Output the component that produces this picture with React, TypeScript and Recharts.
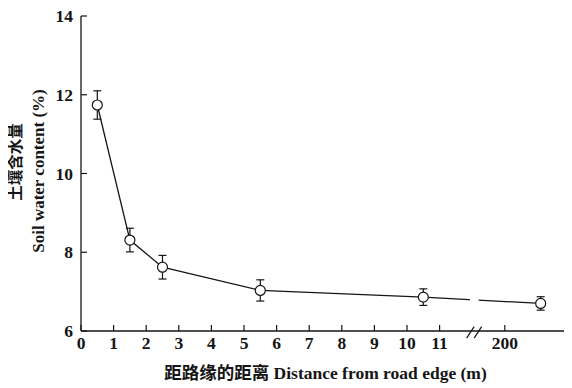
import React from 'react';
import { LineChart, Line, XAxis, YAxis, ErrorBar, ReferenceLine, ReferenceArea, Label } from 'recharts';

// distances from the road edge (m) and their positions on the broken axis
const distanceLabels = ['0.5', '1.5', '2.5', '5.5', '10.5', '200+'];
const plotPositions = [0.5, 1.5, 2.5, 5.5, 10.5, 14.1];
// soil water content (%) and its error
const waterContent = [11.74, 8.31, 7.62, 7.03, 6.86, 6.7];
const waterError = [0.36, 0.3, 0.3, 0.27, 0.21, 0.17];

const xTicks = [0, 1, 2, 3, 4, 5, 6, 7, 8, 9, 10, 11, 13];
const xTickLabels = ['0', '1', '2', '3', '4', '5', '6', '7', '8', '9', '10', '11', '200'];
const yTicks = [6, 8, 10, 12, 14];

const data = plotPositions.map((x, i) => ({
  x,
  label: distanceLabels[i],
  value: waterContent[i],
  err: waterError[i],
}));

const FONT = '"Liberation Serif", "Times New Roman", "Noto Sans CJK SC", serif';
const INK = '#151515';

const XTitle = (props: any) => {
  const vb = props.viewBox || {};
  const cx = vb.x + vb.width / 2;
  return (
    <text x={cx} y={379} textAnchor="middle" fontFamily={FONT} fontWeight="bold" fontSize={17.5} fill={INK}>
      距路缘的距离 Distance from road edge (m)
    </text>
  );
};

const YTitle = () => {
  return (
    <g>
      <text
        x={15}
        y={162}
        transform="rotate(-90, 15, 162)"
        textAnchor="middle"
        dominantBaseline="central"
        fontFamily={FONT}
        fontWeight="bold"
        fontSize={15.5}
        fill={INK}
      >
        土壤含水量
      </text>
      <text
        x={38}
        y={171}
        transform="rotate(-90, 38, 171)"
        textAnchor="middle"
        dominantBaseline="central"
        fontFamily={FONT}
        fontWeight="bold"
        fontSize={17}
        fill={INK}
      >
        Soil water content (%)
      </text>
    </g>
  );
};

const tickStyle = { fontFamily: FONT, fontWeight: 'bold', fontSize: 17.5, fill: INK } as any;

export default function App() {
  return (
    <div style={{ width: 572, height: 388, position: 'relative', top: -8, left: -8 }}>
      <LineChart
        width={572}
        height={388}
        data={data}
        margin={{ top: 16, right: 2, bottom: 27, left: 21 }}
      >
        <XAxis
          type="number"
          dataKey="x"
          domain={[0, 15]}
          ticks={xTicks}
          interval={0}
          tickFormatter={(v: number) => xTickLabels[xTicks.indexOf(v)] ?? ''}
          height={30}
          tickSize={-6}
          tickMargin={12}
          tick={tickStyle}
          axisLine={{ stroke: INK, strokeWidth: 1.3 }}
          tickLine={{ stroke: INK, strokeWidth: 1.2 }}
        >
          <Label content={XTitle} />
        </XAxis>
        <YAxis
          type="number"
          domain={[6, 14]}
          ticks={yTicks}
          interval={0}
          width={60}
          tickSize={-6}
          tickMargin={14}
          tick={tickStyle}
          axisLine={{ stroke: INK, strokeWidth: 1.3 }}
          tickLine={{ stroke: INK, strokeWidth: 1.2 }}
        >
          <Label content={YTitle} />
        </YAxis>
        <Line
          type="linear"
          dataKey="value"
          stroke={INK}
          strokeWidth={1.3}
          dot={{ r: 5, fill: '#fff', stroke: INK, strokeWidth: 1.2 }}
          activeDot={false}
          isAnimationActive={false}
        >
          <ErrorBar dataKey="err" width={4} stroke={INK} strokeWidth={1.2} />
        </Line>
        <ReferenceArea
          x1={11.93}
          x2={12.2}
          y1={6.3}
          y2={7.3}
          fill="#fff"
          fillOpacity={1}
          stroke="none"
          zIndex={450}
        />
        <ReferenceLine
          segment={[{ x: 11.83, y: 5.82 }, { x: 12.06, y: 6.11 }]}
          stroke={INK}
          strokeWidth={1.2}
          ifOverflow="visible"
          zIndex={550}
        />
        <ReferenceLine
          segment={[{ x: 12.06, y: 5.82 }, { x: 12.29, y: 6.11 }]}
          stroke={INK}
          strokeWidth={1.2}
          ifOverflow="visible"
          zIndex={550}
        />
      </LineChart>
    </div>
  );
}
